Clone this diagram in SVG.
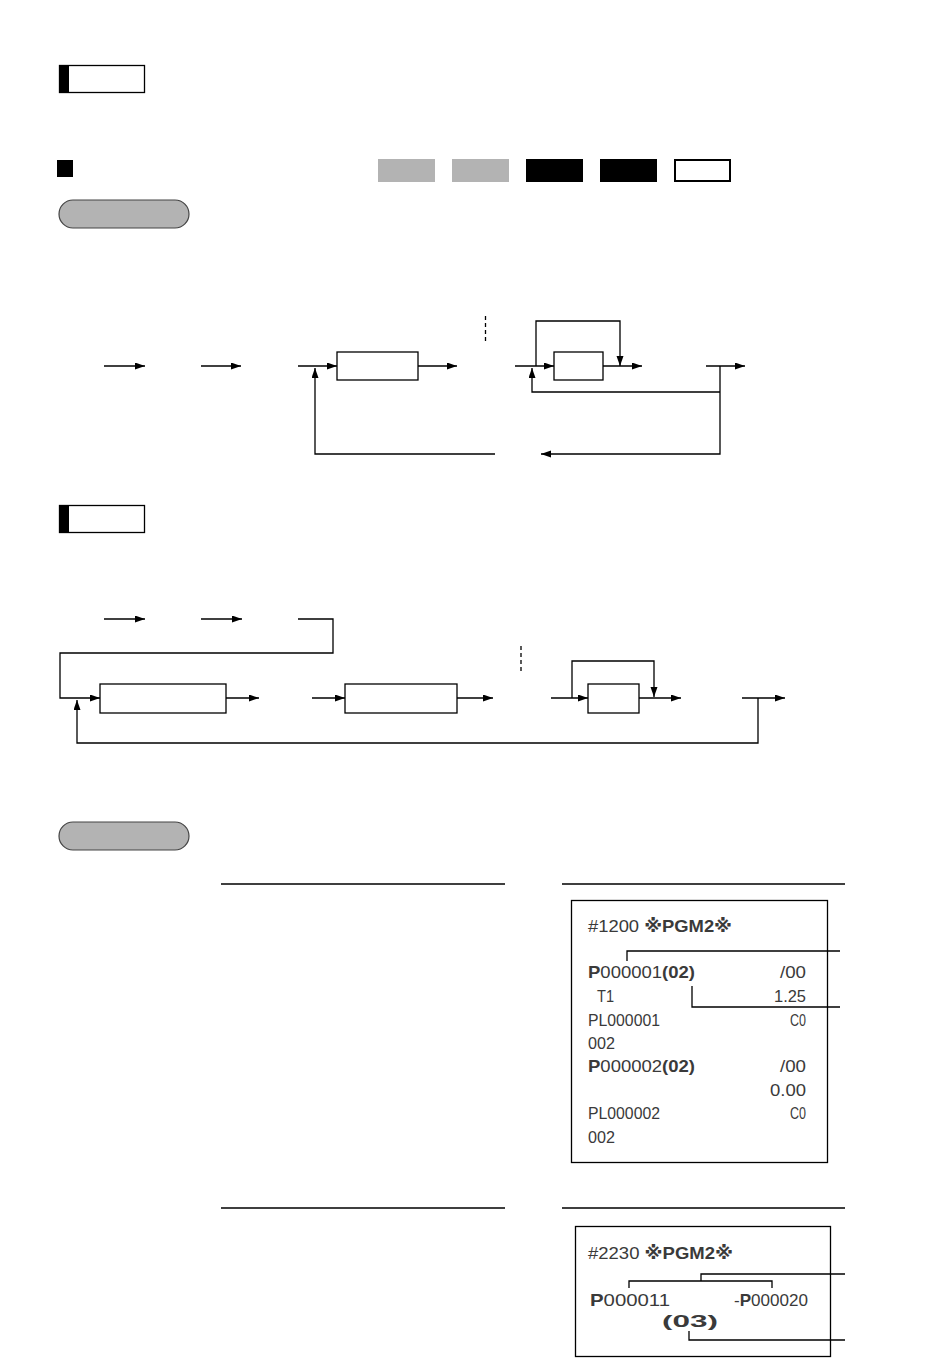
<svg xmlns="http://www.w3.org/2000/svg" width="948" height="1364" viewBox="0 0 948 1364">
<style>
.ln{fill:none;stroke:#000;stroke-width:1.3}
.ar{fill:none;stroke:#000;stroke-width:1.3;marker-end:url(#ah)}
.bx{fill:#fff;stroke:#000;stroke-width:1.3}
.rc{fill:#fff;stroke:#000;stroke-width:1.3}
.pill{fill:#b3b3b3;stroke:#444;stroke-width:1.2}
.t{font-family:"Liberation Sans","DejaVu Sans",sans-serif;font-size:17px;fill:#3a3a3a}
.w{font-family:"Liberation Sans","DejaVu Sans",sans-serif;font-size:17px;font-weight:bold;fill:#3a3a3a}
</style>
<defs>
<marker id="ah" markerUnits="userSpaceOnUse" markerWidth="11" markerHeight="8" refX="10" refY="3.5" orient="auto">
<path d="M0,0 L10,3.5 L0,7 z" fill="#000"/>
</marker>
</defs>

<g id="header1">
<rect x="59.5" y="65.5" width="85" height="27" class="rc"/>
<rect x="59" y="65" width="10" height="28" fill="#000"/>
</g>
<g id="bullet">
<rect x="57" y="160" width="16" height="17" fill="#000"/>
</g>
<g id="modekeys">
<rect x="378" y="159" width="57" height="23" fill="#b3b3b3"/>
<rect x="452" y="159" width="57" height="23" fill="#b3b3b3"/>
<rect x="526" y="159" width="57" height="23" fill="#000"/>
<rect x="600" y="159" width="57" height="23" fill="#000"/>
<rect x="675" y="160" width="55" height="21" fill="#fff" stroke="#000" stroke-width="2"/>
</g>
<g id="pill1">
<rect x="59" y="200" width="130" height="28" rx="14" class="pill"/>
</g>

<g id="diag1-nodes">
<rect id="d1box1" x="337" y="352" width="81" height="28" class="bx"/>
<rect id="d1box2" x="554" y="352" width="49" height="28" class="bx"/>
</g>
<g id="diag1-connectors">
<path d="M104,366 H145" class="ar"/>
<path d="M201,366 H241" class="ar"/>
<path d="M298,366 H337" class="ar"/>
<path d="M495,454 H315 V368" class="ar"/>
<path d="M418,366 H457" class="ar"/>
<path d="M485.5,316 V341" class="ln" stroke-dasharray="4,3" stroke-width="1"/>
<path d="M515,366 H554" class="ar"/>
<path d="M603,366 H642" class="ar"/>
<path d="M536,366 V321 H620 V366" class="ar"/>
<path d="M706,366 H745" class="ar"/>
<path d="M720,366 V454 H541" class="ar"/>
<path d="M720,392 H532 V368" class="ar"/>
</g>

<g id="header2">
<rect x="59.5" y="505.5" width="85" height="27" class="rc"/>
<rect x="59" y="505" width="10" height="28" fill="#000"/>
</g>

<g id="diag2-nodes">
<rect id="d2box1" x="100" y="684" width="126" height="29" class="bx"/>
<rect id="d2box2" x="345" y="684" width="112" height="29" class="bx"/>
<rect id="d2box3" x="588" y="684" width="51" height="29" class="bx"/>
</g>
<g id="diag2-connectors">
<path d="M104,619 H145" class="ar"/>
<path d="M201,619 H242" class="ar"/>
<path d="M298,619 H333 V653 H60 V698 H100" class="ar"/>
<path d="M226,698 H259" class="ar"/>
<path d="M312,698 H345" class="ar"/>
<path d="M457,698 H493" class="ar"/>
<path d="M521,646 V673" class="ln" stroke-dasharray="4,3" stroke-width="1"/>
<path d="M551,698 H588" class="ar"/>
<path d="M639,698 H681" class="ar"/>
<path d="M572,698 V661 H654 V697" class="ar"/>
<path d="M742,698 H785" class="ar"/>
<path d="M758,698 V743 H77 V700" class="ar"/>
</g>

<g id="pill2">
<rect x="59" y="822" width="130" height="28" rx="14" class="pill"/>
</g>

<g id="rules">
<path d="M221,884 H505 M562,884 H845 M221,1208 H505 M562,1208 H845" class="ln" stroke-width="1.2"/>
</g>

<g id="receipt1">
<rect x="571.5" y="900.5" width="256" height="262" class="rc" stroke-width="1.2"/>
<text class="t" x="588" y="932" textLength="144" lengthAdjust="spacingAndGlyphs">#1200 <tspan class="w">※PGM2※</tspan></text>
<text class="t" x="588" y="978" textLength="107" lengthAdjust="spacingAndGlyphs"><tspan class="w">P</tspan>000001<tspan class="w">(02)</tspan></text>
<text class="t" x="780" y="978" textLength="26" lengthAdjust="spacingAndGlyphs">/00</text>
<text class="t" x="597" y="1002" textLength="17" lengthAdjust="spacingAndGlyphs">T1</text>
<text class="t" x="774" y="1002" textLength="32" lengthAdjust="spacingAndGlyphs">1.25</text>
<text class="t" x="588" y="1026" textLength="72" lengthAdjust="spacingAndGlyphs">PL000001</text>
<text class="t" x="790" y="1026" textLength="16" lengthAdjust="spacingAndGlyphs">C0</text>
<text class="t" x="588" y="1049" textLength="27" lengthAdjust="spacingAndGlyphs">002</text>
<text class="t" x="588" y="1072" textLength="107" lengthAdjust="spacingAndGlyphs"><tspan class="w">P</tspan>000002<tspan class="w">(02)</tspan></text>
<text class="t" x="780" y="1072" textLength="26" lengthAdjust="spacingAndGlyphs">/00</text>
<text class="t" x="770" y="1096" textLength="36" lengthAdjust="spacingAndGlyphs">0.00</text>
<text class="t" x="588" y="1119" textLength="72" lengthAdjust="spacingAndGlyphs">PL000002</text>
<text class="t" x="790" y="1119" textLength="16" lengthAdjust="spacingAndGlyphs">C0</text>
<text class="t" x="588" y="1143" textLength="27" lengthAdjust="spacingAndGlyphs">002</text>
</g>
<g id="receipt1-callouts">
<path d="M627,961 V951 H840" class="ln" stroke-width="1.2"/>
<path d="M692,986 V1007 H840" class="ln" stroke-width="1.2"/>
</g>

<g id="receipt2">
<rect x="575.5" y="1226.5" width="255" height="130" class="rc" stroke-width="1.2"/>
<text class="t" x="588" y="1259" textLength="145" lengthAdjust="spacingAndGlyphs">#2230 <tspan class="w">※PGM2※</tspan></text>
<text class="t" x="590" y="1306" textLength="80" lengthAdjust="spacingAndGlyphs"><tspan class="w">P</tspan>000011</text>
<text class="t" x="734" y="1306" textLength="74" lengthAdjust="spacingAndGlyphs">-<tspan class="w">P</tspan>000020</text>
<text class="t" x="662" y="1327" textLength="56" lengthAdjust="spacingAndGlyphs"><tspan class="w">(03)</tspan></text>
</g>
<g id="receipt2-callouts">
<path d="M629,1288 V1281 H772 V1288 M701,1281 V1274 H845" class="ln" stroke-width="1.2"/>
<path d="M689,1331 V1340 H845" class="ln" stroke-width="1.2"/>
</g>
</svg>
